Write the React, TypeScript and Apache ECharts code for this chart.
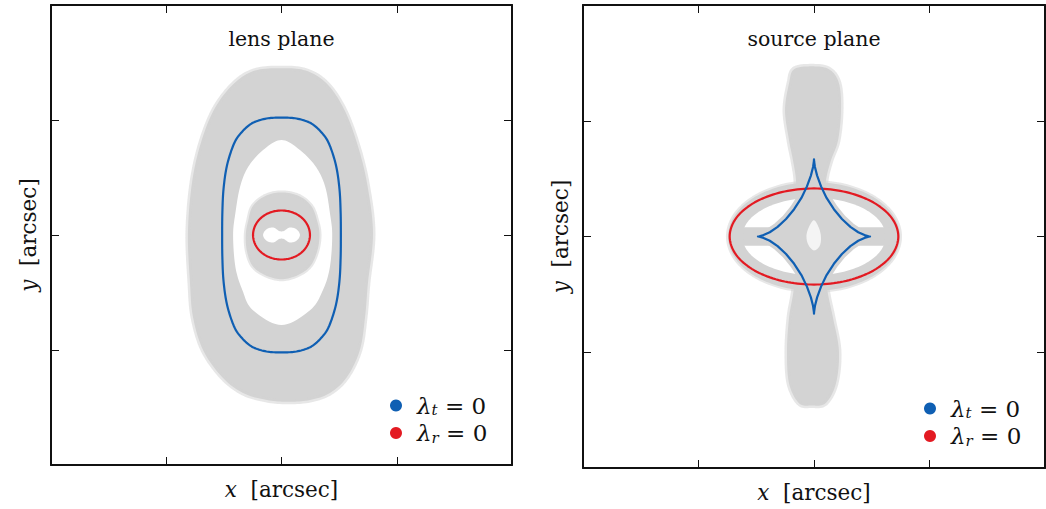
import React, { useEffect, useRef } from 'react';
import * as echarts from 'echarts';

type P = [number, number];

// ---- text ----
const panelTitles = ['lens plane', 'source plane'];
const legendNames = ['λt = 0', 'λr = 0'];
const axisUnit = '[arcsec]';

// ---- axes (both panels) ----
const AXIS_MIN = -2;
const AXIS_MAX = 2;
const AXIS_STEP = 1;

// ---- lens plane: gray image cloud ----
const lensCloudOuter: P[] = [
  [0.0, 1.45], [0.21, 1.43], [0.39, 1.32], [0.54, 1.1], [0.655, 0.8], [0.742, 0.452],
  [0.794, 0.017], [0.75, -0.417], [0.725, -0.713], [0.68, -1.0], [0.568, -1.235], [0.42, -1.374],
  [0.247, -1.435], [0.06, -1.45], [-0.126, -1.435], [-0.334, -1.374], [-0.516, -1.235], [-0.681, -1.0],
  [-0.768, -0.713], [-0.794, -0.417], [-0.812, 0.017], [-0.777, 0.452], [-0.7, 0.8], [-0.58, 1.1],
  [-0.41, 1.32], [-0.23, 1.43],
];
const lensCloudHole: P[] = [
  [0.0, 0.826], [0.16, 0.739], [0.3, 0.591], [0.38, 0.417], [0.42, 0.191], [0.44, 0.0],
  [0.42, -0.278], [0.36, -0.478], [0.25, -0.652], [0.0, -0.783], [-0.25, -0.652], [-0.34, -0.478],
  [-0.4, -0.278], [-0.42, 0.0], [-0.4, 0.191], [-0.36, 0.417], [-0.29, 0.591], [-0.16, 0.739],
];
const lensCloudCore: P[] = [
  [0.0, 0.37], [0.15, 0.34], [0.26, 0.25], [0.31, 0.12], [0.33, 0.0], [0.31, -0.14], [0.25, -0.27],
  [0.14, -0.35], [0.0, -0.385], [-0.14, -0.35], [-0.25, -0.27], [-0.3, -0.14], [-0.31, 0.0],
  [-0.29, 0.12], [-0.25, 0.25], [-0.14, 0.34],
];
const lensCloudCoreHole: P[] = [
  [-0.16, 0.0], [-0.13, 0.05], [-0.07, 0.065], [-0.02, 0.035], [0.02, 0.035], [0.07, 0.065],
  [0.13, 0.05], [0.16, 0.0], [0.13, -0.05], [0.07, -0.065], [0.02, -0.035], [-0.02, -0.035],
  [-0.07, -0.065], [-0.13, -0.05],
];
// ---- lens plane: critical curves ----
const lensTangential: P[] = [
  [0.515, 0], [0.513, 0.2], [0.503, 0.4], [0.474, 0.6], [0.418, 0.78], [0.36, 0.877], [0.26, 0.969], [0.13, 1.013],
  [0, 1.02], [-0.13, 1.013], [-0.26, 0.969], [-0.36, 0.877], [-0.418, 0.78], [-0.474, 0.6], [-0.503, 0.4], [-0.513, 0.2],
  [-0.515, 0], [-0.513, -0.2], [-0.503, -0.4], [-0.474, -0.6], [-0.418, -0.78], [-0.36, -0.877], [-0.26, -0.969], [-0.13, -1.013],
  [0, -1.02], [0.13, -1.013], [0.26, -0.969], [0.36, -0.877], [0.418, -0.78], [0.474, -0.6], [0.503, -0.4], [0.513, -0.2],
];
const lensRadial: P[] = [
  [0.247, 0], [0.228, 0.082], [0.175, 0.151], [0.095, 0.197], [0, 0.213], [-0.095, 0.197], [-0.175, 0.151],
  [-0.228, 0.082], [-0.247, 0], [-0.228, -0.082], [-0.175, -0.151], [-0.095, -0.197], [0, -0.213],
  [0.095, -0.197], [0.175, -0.151], [0.228, -0.082],
];

// ---- source plane: gray source cloud ----
const sourceCloudBand: P[] = [
  [-0.02, 1.47], [0.13, 1.445], [0.216, 1.325], [0.234, 1.09], [0.208, 0.83], [0.147, 0.658], [0.104, 0.485],
  [0.1, 0.3], [0.1, -0.3], [0.12, -0.49], [0.164, -0.7], [0.216, -0.99], [0.19, -1.27], [0.1, -1.44],
  [-0.02, -1.46], [-0.13, -1.44], [-0.216, -1.27], [-0.234, -0.99], [-0.216, -0.7], [-0.18, -0.49],
  [-0.16, -0.3], [-0.16, 0.3], [-0.156, 0.485], [-0.182, 0.658], [-0.216, 0.83], [-0.251, 1.09],
  [-0.216, 1.325], [-0.173, 1.445],
];
const sourceCloudRing: P[] = [
  [0.745, 0], [0.688, 0.18], [0.527, 0.332], [0.285, 0.434], [0, 0.47], [-0.285, 0.434], [-0.527, 0.332],
  [-0.688, 0.18], [-0.745, 0], [-0.688, -0.18], [-0.527, -0.332], [-0.285, -0.434], [0, -0.47],
  [0.285, -0.434], [0.527, -0.332], [0.688, -0.18],
];
const sourceCloudRingHole: P[] = [
  [0.62, 0], [0.573, 0.128], [0.438, 0.237], [0.237, 0.309], [0, 0.335], [-0.237, 0.309], [-0.438, 0.237],
  [-0.573, 0.128], [-0.62, 0], [-0.573, -0.128], [-0.438, -0.237], [-0.237, -0.309], [0, -0.335],
  [0.237, -0.309], [0.438, -0.237], [0.573, -0.128],
];
const sourceCloudBar: P[] = [
  [-0.64, 0.055], [0.64, 0.055], [0.64, -0.055], [-0.64, -0.055],
];
const sourceCloudCenterHole: P[] = [
  [0.0, 0.14], [0.04, 0.08], [0.06, 0.0], [0.05, -0.08], [0.0, -0.12], [-0.05, -0.07], [-0.065, 0.01], [-0.04, 0.09],
];
// ---- source plane: caustics ----
const sourceTangential: P[] = [
  [0.485, 0], [0.473, 0.002], [0.437, 0.012], [0.383, 0.037], [0.315, 0.083], [0.242, 0.151], [0.172, 0.236],
  [0.109, 0.333], [0.061, 0.433], [0.027, 0.526], [0.008, 0.601], [0.001, 0.65], [0, 0.667],
  [-0.001, 0.65], [-0.008, 0.601], [-0.027, 0.526], [-0.061, 0.433], [-0.109, 0.333], [-0.172, 0.236],
  [-0.242, 0.151], [-0.315, 0.083], [-0.383, 0.037], [-0.437, 0.012], [-0.473, 0.002], [-0.485, 0],
  [-0.473, -0.002], [-0.437, -0.012], [-0.383, -0.037], [-0.315, -0.083], [-0.242, -0.151], [-0.172, -0.236],
  [-0.109, -0.333], [-0.061, -0.433], [-0.027, -0.526], [-0.008, -0.601], [-0.001, -0.65], [0, -0.667],
  [0.001, -0.65], [0.008, -0.601], [0.027, -0.526], [0.061, -0.433], [0.109, -0.333], [0.172, -0.236],
  [0.242, -0.151], [0.315, -0.083], [0.383, -0.037], [0.437, -0.012], [0.473, -0.002],
];
const sourceRadial: P[] = [
  [0.73, 0], [0.674, 0.159], [0.516, 0.293], [0.28, 0.383], [0, 0.415], [-0.28, 0.383], [-0.516, 0.293],
  [-0.674, 0.159], [-0.73, 0], [-0.674, -0.159], [-0.516, -0.293], [-0.28, -0.383], [0, -0.415],
  [0.28, -0.383], [0.516, -0.293], [0.674, -0.159],
];

const GRAY = '#d3d3d3';
const GRAY_EDGE = 'rgba(211,211,211,0.55)';
const WHITE = '#ffffff';
const BLUE = '#0f5fb3';
const RED = '#e31a22';
const INK = '#111111';
const FONT = 'DejaVu Serif';

const GRIDS = [
  { left: 51, top: 5, width: 461, height: 460 },
  { left: 583, top: 5, width: 462, height: 463 },
];
const TITLE_X = [281.5, 814];
const LEGEND_POS = [
  { left: 390, top: 394 },
  { left: 924, top: 397 },
];

// closed Catmull-Rom through the mapped pixel points (drawing only)
function smoothLoop(px: number[][], steps: number): number[][] {
  const n = px.length;
  const out: number[][] = [];
  for (let i = 0; i < n; i++) {
    const p0 = px[(i - 1 + n) % n];
    const p1 = px[i];
    const p2 = px[(i + 1) % n];
    const p3 = px[(i + 2) % n];
    const c1 = [p1[0] + (p2[0] - p0[0]) / 6, p1[1] + (p2[1] - p0[1]) / 6];
    const c2 = [p2[0] - (p3[0] - p1[0]) / 6, p2[1] - (p3[1] - p1[1]) / 6];
    for (let k = 0; k < steps; k++) {
      const t = k / steps;
      const u = 1 - t;
      const a = u * u * u, b = 3 * u * u * t, c = 3 * u * t * t, d = t * t * t;
      out.push([
        a * p1[0] + b * c1[0] + c * c2[0] + d * p2[0],
        a * p1[1] + b * c1[1] + c * c2[1] + d * p2[1],
      ]);
    }
  }
  return out;
}

function shape(
  name: string,
  panel: number,
  pts: P[],
  fill: string,
  stroke: string,
  lineWidth: number,
  smooth: boolean,
  color?: string
): any {
  return {
    type: 'custom',
    name,
    xAxisIndex: panel * 2,
    yAxisIndex: panel * 2,
    data: pts,
    silent: true,
    itemStyle: { color: color || fill },
    renderItem: (params: any, api: any) => {
      if (params.dataIndex !== 0) return null;
      const mapped = pts.map((p) => api.coord(p));
      const points = smooth ? smoothLoop(mapped, 10) : mapped;
      return {
        type: 'polygon',
        shape: { points },
        style: { fill, stroke, lineWidth, lineJoin: 'round' },
      };
    },
  };
}

function axis(gridIndex: number, position: string, withName: boolean, isX: boolean): any {
  const a: any = {
    type: 'value',
    gridIndex,
    position,
    min: AXIS_MIN,
    max: AXIS_MAX,
    interval: AXIS_STEP,
    axisLine: { show: true, onZero: false, lineStyle: { color: INK, width: 2 } },
    axisTick: { show: true, inside: true, length: 8, lineStyle: { color: INK, width: 1 } },
    axisLabel: { show: false },
    splitLine: { show: false },
  };
  if (withName) {
    a.name = `{i|${isX ? 'x' : 'y'}}{n|  ${axisUnit}}`;
    a.nameLocation = 'middle';
    a.nameGap = isX ? 13 : 12;
    if (!isX) a.nameRotate = 90;
    a.nameTextStyle = {
      color: INK,
      fontFamily: FONT,
      fontSize: 21.5,
      rich: {
        i: { fontStyle: 'italic', fontFamily: FONT, fontSize: 21.5, color: INK },
        n: { fontFamily: FONT, fontSize: 21.5, color: INK },
      },
    };
  }
  return a;
}

export default function App() {
  const ref = useRef<HTMLDivElement>(null);
  useEffect(() => {
    if (!ref.current) return;
    const chart = echarts.init(ref.current, undefined, { renderer: 'svg' });
    const [nT, nR] = legendNames;
    const series: any[] = [
      // lens plane
      shape('lens cloud', 0, lensCloudOuter, GRAY, GRAY_EDGE, 5, true),
      shape('lens gap', 0, lensCloudHole, WHITE, 'none', 0, true),
      shape('lens core', 0, lensCloudCore, GRAY, GRAY_EDGE, 4, true),
      shape('lens core gap', 0, lensCloudCoreHole, WHITE, 'none', 0, true),
      shape(nT, 0, lensTangential, 'none', BLUE, 2.2, true, BLUE),
      shape(nR, 0, lensRadial, 'none', RED, 2.2, true, RED),
      // source plane
      shape('source band', 1, sourceCloudBand, GRAY, GRAY_EDGE, 5, true),
      shape('source ring', 1, sourceCloudRing, GRAY, GRAY_EDGE, 4, true),
      shape('source ring gap', 1, sourceCloudRingHole, WHITE, 'none', 0, true),
      shape('source bar', 1, sourceCloudBar, GRAY, GRAY, 6, false),
      shape('source core', 1, sourceTangential, GRAY, GRAY, 9, false),
      shape('source core gap', 1, sourceCloudCenterHole, 'rgba(255,255,255,0.75)', 'none', 0, true),
      shape(nR, 1, sourceRadial, 'none', RED, 2.2, true, RED),
      shape(nT, 1, sourceTangential, 'none', BLUE, 2.2, false, BLUE),
    ];
    const rich = {
      g: { fontFamily: FONT, fontStyle: 'italic', fontSize: 23, lineHeight: 24, color: INK, padding: [0, 0, 0, 10] },
      s: { fontFamily: FONT, fontStyle: 'italic', fontSize: 15, lineHeight: 14, color: INK, verticalAlign: 'bottom' },
      e: { fontFamily: FONT, fontSize: 23, lineHeight: 24, color: INK },
    };
    chart.setOption({
      animation: false,
      backgroundColor: '#ffffff',
      grid: GRIDS,
      xAxis: [axis(0, 'bottom', true, true), axis(0, 'top', false, true), axis(1, 'bottom', true, true), axis(1, 'top', false, true)],
      yAxis: [axis(0, 'left', true, false), axis(0, 'right', false, false), axis(1, 'left', true, false), axis(1, 'right', false, false)],
      legend: LEGEND_POS.map((pos) => ({
        show: true,
        orient: 'vertical',
        left: pos.left,
        top: pos.top,
        padding: 0,
        itemWidth: 12,
        itemHeight: 12,
        itemGap: 4,
        selectedMode: false,
        data: legendNames.map((n) => ({ name: n, icon: 'circle' })),
        formatter: (name: string) => {
          const sub = name.charAt(1);
          return `{g|λ}{s|${sub}}{e| = 0}`;
        },
        textStyle: { rich },
      })),
      graphic: panelTitles.map((t, i) => ({
        type: 'text',
        x: TITLE_X[i],
        y: 39,
        silent: true,
        style: {
          text: t,
          fill: INK,
          fontFamily: FONT,
          fontSize: 20.5,
          align: 'center',
          verticalAlign: 'middle',
        },
      })),
      series,
    });
    return () => chart.dispose();
  }, []);
  return (
    <div
      ref={ref}
      style={{ position: 'fixed', left: 0, top: 0, width: 1046, height: 509, background: '#fff' }}
    />
  );
}
